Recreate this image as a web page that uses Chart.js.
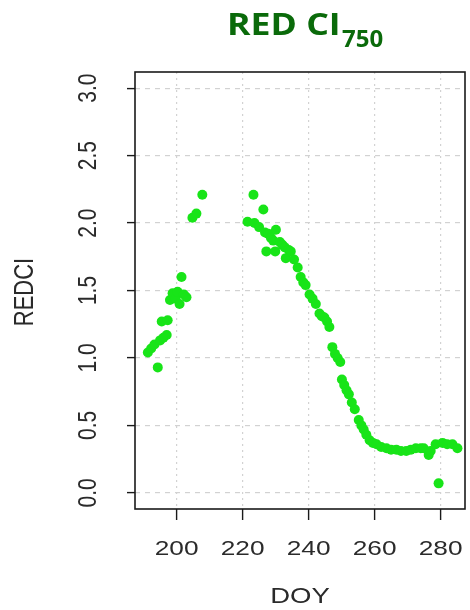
<!DOCTYPE html>
<html>
<head>
<meta charset="utf-8">
<script src="https://cdn.jsdelivr.net/npm/chart.js@4/dist/chart.umd.min.js"></script>
<style>
  html, body { margin: 0; padding: 0; background: #ffffff; }
  #wrap { position: relative; width: 470px; height: 610px; overflow: hidden; }
  #plot { position: absolute; left: 0; top: 0; }
  #title { position: absolute; left: 0; top: 0; width: 470px; height: 60px;
           font-family: "Open Sans", sans-serif; font-weight: 700; color: #0a6a0a; }
  #title .main { position: absolute; left: 227px; top: 8px; font-size: 31px; line-height: 31px;
                 transform: scaleX(1.15); transform-origin: 0 0; white-space: nowrap; }
  #title sub { position: absolute; left: 342px; top: 26px; font-size: 24px; line-height: 24px;
               vertical-align: baseline; white-space: nowrap; }
</style>
</head>
<body>
<div id="wrap">
  <canvas id="plot" width="470" height="610"></canvas>
  <div id="title"><span class="main">RED CI</span><sub>750</sub></div>
</div>
<script>
// Day of year of each observation
const doy = [
  191.3, 192.3, 193.3, 194.3, 195.0, 195.5, 196.0, 197.0, 197.3, 198.0,
  198.8, 199.7, 200.3, 200.9, 201.5, 202.2, 203.0, 204.8, 206.0, 207.8,
  221.5, 223.3, 223.6, 225.0, 226.3, 226.8, 227.2, 227.8, 228.6, 229.3,
  229.9, 230.1, 231.3, 232.0, 232.8, 233.1, 234.0, 234.6, 235.6, 236.7,
  237.6, 238.4, 239.1, 240.3, 241.2, 242.2, 243.3, 244.0, 244.8, 245.6,
  246.3, 247.2, 248.0, 248.8, 249.6, 250.1, 250.8, 251.5, 252.2, 253.1,
  254.0, 255.2, 256.0, 256.7, 257.5, 258.5, 259.5, 260.6, 262.0, 263.6,
  265.0, 266.6, 268.0, 269.6, 271.0, 272.5, 274.0, 274.9, 276.4, 277.0,
  278.5, 279.4, 280.6, 282.0, 283.6, 285.1
];
// Red-edge chlorophyll index (CI 750) for each day
const redci = [
  1.04, 1.07, 1.10, 0.93, 1.13, 1.27, 1.15, 1.17, 1.28, 1.43,
  1.48, 1.44, 1.49, 1.40, 1.60, 1.47, 1.45, 2.04, 2.07, 2.21,
  2.01, 2.21, 2.00, 1.97, 2.10, 1.93, 1.79, 1.92, 1.89, 1.87,
  1.79, 1.95, 1.86, 1.84, 1.82, 1.74, 1.80, 1.79, 1.73, 1.67,
  1.60, 1.56, 1.54, 1.47, 1.44, 1.40, 1.33, 1.31, 1.30, 1.27,
  1.23, 1.08, 1.03, 1.00, 0.97, 0.84, 0.80, 0.76, 0.73, 0.67,
  0.62, 0.54, 0.50, 0.47, 0.43, 0.39, 0.37, 0.36, 0.34, 0.33,
  0.32, 0.32, 0.31, 0.31, 0.32, 0.33, 0.33, 0.33, 0.28, 0.31,
  0.36, 0.07, 0.37, 0.36, 0.36, 0.33
];
// Axis ticks
const xTicks = [200, 220, 240, 260, 280];
const yTicks = [0.0, 0.5, 1.0, 1.5, 2.0, 2.5, 3.0];
const xLabels = ['200', '220', '240', '260', '280'];
const yLabels = ['0.0', '0.5', '1.0', '1.5', '2.0', '2.5', '3.0'];
const xTitle = 'DOY';
const yTitle = 'REDCI';

const points = doy.map((d, i) => ({ x: d, y: redci[i] }));

const AXIS_FONT = '"Liberation Sans", Arial, sans-serif';
const STRETCH = 1.25;

// Frame, tick labels and axis titles in the classic base-graphics look
const framePlugin = {
  id: 'frame',
  afterDraw(chart) {
    const ctx = chart.ctx;
    const a = chart.chartArea;
    const xs = chart.scales.x, ys = chart.scales.y;
    ctx.save();
    ctx.strokeStyle = '#1a1a1a';
    ctx.lineWidth = 1.6;
    ctx.strokeRect(a.left, a.top, a.right - a.left, a.bottom - a.top);

    ctx.fillStyle = '#2a2a2a';
    ctx.textAlign = 'center';
    ctx.textBaseline = 'middle';
    ctx.font = '21px ' + AXIS_FONT;
    xTicks.forEach((v, i) => {
      ctx.save();
      ctx.translate(xs.getPixelForValue(v), 549);
      ctx.scale(STRETCH, 1);
      ctx.fillText(xLabels[i], 0, 0);
      ctx.restore();
    });
    yTicks.forEach((v, i) => {
      ctx.save();
      ctx.translate(89, ys.getPixelForValue(v));
      ctx.scale(STRETCH, 1);
      ctx.rotate(-Math.PI / 2);
      ctx.fillText(yLabels[i], 0, 0);
      ctx.restore();
    });
    ctx.font = '22px ' + AXIS_FONT;
    ctx.save();
    ctx.translate((a.left + a.right) / 2, 597);
    ctx.scale(STRETCH, 1);
    ctx.fillText(xTitle, 0, 0);
    ctx.restore();
    ctx.save();
    ctx.translate(25, 292);
    ctx.scale(STRETCH, 1);
    ctx.rotate(-Math.PI / 2);
    ctx.fillText(yTitle, 0, 0);
    ctx.restore();
    ctx.restore();
  }
};

new Chart(document.getElementById('plot'), {
  type: 'scatter',
  data: {
    datasets: [{
      data: points,
      backgroundColor: 'rgb(24, 228, 24)',
      borderWidth: 0,
      pointRadius: 5,
      pointHoverRadius: 5
    }]
  },
  options: {
    responsive: false,
    animation: false,
    devicePixelRatio: 1,
    layout: { padding: { top: 72, right: 1, left: 0, bottom: 0 } },
    plugins: { legend: { display: false }, tooltip: { enabled: false }, title: { display: false } },
    scales: {
      x: {
        type: 'linear',
        min: 187.4,
        max: 287.4,
        afterBuildTicks: s => { s.ticks = xTicks.map(v => ({ value: v })); },
        afterFit: s => { s.height = 101; },
        ticks: { display: false },
        grid: {
          color: '#d2d2d2', lineWidth: 1.2,
          drawTicks: true, tickLength: 11, tickColor: '#1a1a1a', tickWidth: 1.4, tickBorderDash: []
        },
        border: { display: false, dash: [2, 4] }
      },
      y: {
        type: 'linear',
        min: -0.12,
        max: 3.12,
        afterBuildTicks: s => { s.ticks = yTicks.map(v => ({ value: v })); },
        afterFit: s => { s.width = 135; },
        ticks: { display: false },
        grid: {
          color: '#d2d2d2', lineWidth: 1.2,
          drawTicks: true, tickLength: 8, tickColor: '#1a1a1a', tickWidth: 1.4, tickBorderDash: []
        },
        border: { display: false, dash: [5, 5] }
      }
    }
  },
  plugins: [framePlugin]
});
</script>
</body>
</html>
